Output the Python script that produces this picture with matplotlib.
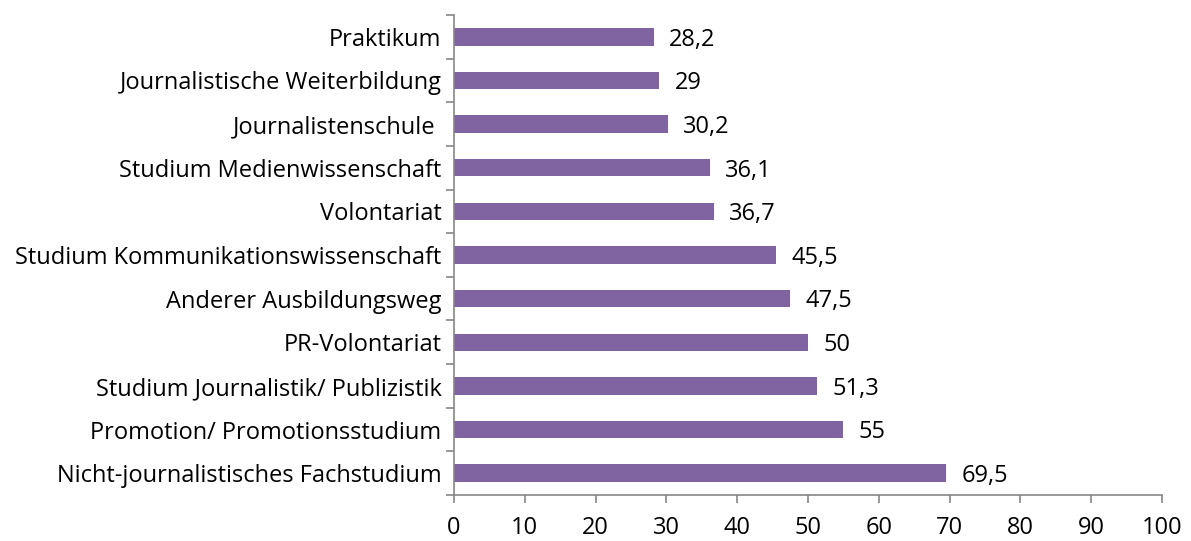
import matplotlib.pyplot as plt

# categories from bottom to top
categories = [
    'Nicht-journalistisches Fachstudium',
    'Promotion/ Promotionsstudium',
    'Studium Journalistik/ Publizistik',
    'PR-Volontariat',
    'Anderer Ausbildungsweg',
    'Studium Kommunikationswissenschaft',
    'Volontariat',
    'Studium Medienwissenschaft',
    'Journalistenschule ',
    'Journalistische Weiterbildung',
    'Praktikum',
]
values = [69.5, 55, 51.3, 50, 47.5, 45.5, 36.7, 36.1, 30.2, 29, 28.2]
value_labels = ['69,5', '55', '51,3', '50', '47,5', '45,5', '36,7', '36,1', '30,2', '29', '28,2']
xticks = list(range(0, 101, 10))

plt.rcParams['font.family'] = ['Open Sans', 'DejaVu Sans']
fs = 17

fig = plt.figure(figsize=(11.91, 5.41), dpi=100)
ax = fig.add_axes([0.3812, 0.085, 0.5945, 0.8873])

pos = list(range(len(categories)))
ax.barh(pos, values, height=0.4, color='#8064A2', edgecolor='none')

for p, v, lab in zip(pos, values, value_labels):
    ax.annotate(lab, (v, p), xytext=(11, -2), textcoords='offset points',
                ha='left', va='center', fontsize=fs, color='black')

ax.set_xlim(0, 100)
ax.set_ylim(-0.5, len(categories) - 0.5)
ax.set_xticks(xticks)
ax.set_xticklabels([str(t) for t in xticks], fontsize=fs)

ax.set_yticks([p for p in pos])
ax.set_yticklabels(categories, fontsize=fs)
ax.tick_params(axis='y', length=0, pad=9)
# boundary ticks on the category axis
ax.set_yticks([p - 0.5 for p in pos] + [len(categories) - 0.5], minor=True)
ax.tick_params(axis='y', which='minor', length=6, width=1.2, color='#868686', direction='out')
ax.tick_params(axis='x', length=6, width=1.2, color='#868686', direction='out', pad=9)

for side in ['top', 'right']:
    ax.spines[side].set_visible(False)
for side in ['left', 'bottom']:
    ax.spines[side].set_color('#868686')
    ax.spines[side].set_linewidth(1.2)

plt.savefig('out.png', dpi=100)
